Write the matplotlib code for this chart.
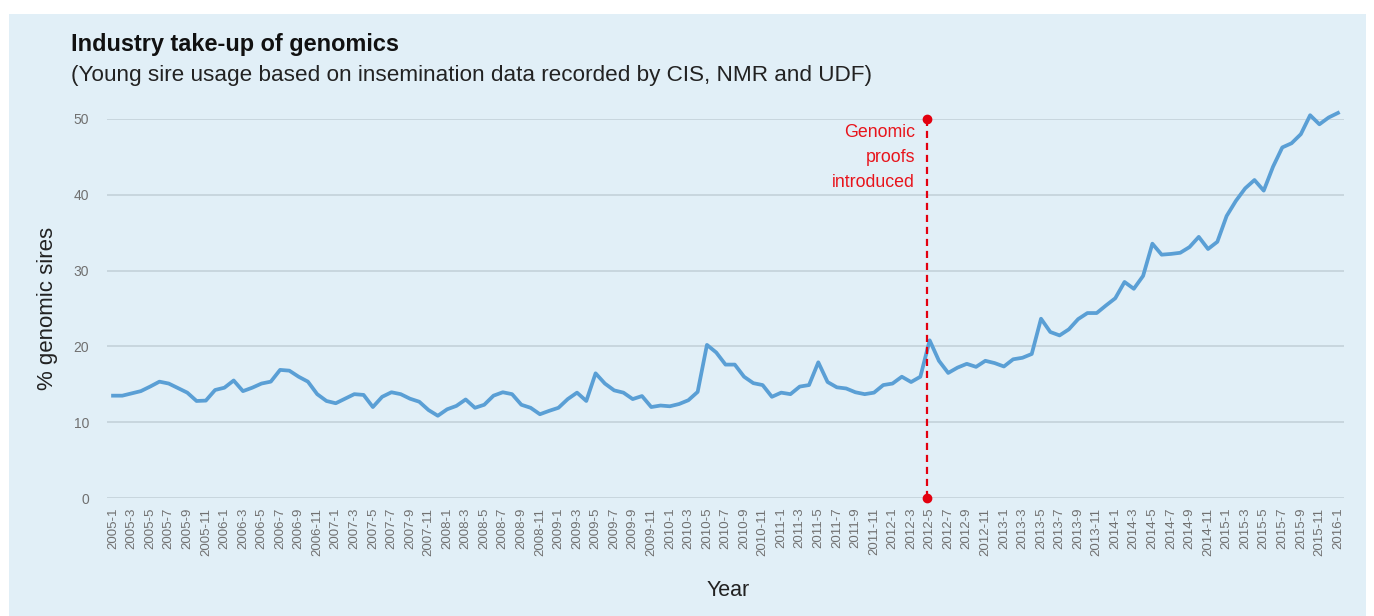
import matplotlib.pyplot as plt
import matplotlib.patches as mpatches
import numpy as np

plt.rcParams['font.family'] = ['Liberation Sans', 'DejaVu Sans']

# Monthly periods 2005-1 .. 2016-1
months = [f'{y}-{m}' for y in range(2005, 2017) for m in range(1, 13)][:133]

# % genomic sires
genomic_pct = [
    13.5, 13.5, 13.8, 14.1, 14.7, 15.35, 15.1, 14.5, 13.9, 12.8,
    12.85, 14.25, 14.55, 15.5, 14.1, 14.55, 15.1, 15.35, 16.9, 16.8,
    16.0, 15.35, 13.7, 12.8, 12.5, 13.1, 13.7, 13.6, 12.0, 13.35,
    13.95, 13.7, 13.1, 12.7, 11.6, 10.85, 11.7, 12.15, 13.0, 11.9,
    12.3, 13.5, 13.95, 13.7, 12.3, 11.9, 11.05, 11.5, 11.9, 13.05,
    13.9, 12.8, 16.45, 15.1, 14.2, 13.9, 13.05, 13.45, 12.0, 12.2,
    12.1, 12.4, 12.9, 14.0, 20.2, 19.2, 17.6, 17.6, 16.0, 15.15,
    14.9, 13.35, 13.9, 13.7, 14.7, 14.9, 17.9, 15.3, 14.6, 14.45,
    13.95, 13.7, 13.9, 14.9, 15.1, 16.0, 15.3, 16.0, 20.8, 18.1,
    16.5, 17.2, 17.7, 17.3, 18.1, 17.8, 17.35, 18.3, 18.5, 19.0,
    23.65, 21.9, 21.45, 22.25, 23.6, 24.4, 24.4, 25.4, 26.35, 28.5,
    27.6, 29.3, 33.55, 32.1, 32.2, 32.35, 33.1, 34.45, 32.85, 33.8,
    37.2, 39.2, 40.85, 41.95, 40.55, 43.7, 46.25, 46.8, 48.0, 50.5,
    49.3, 50.2, 50.8,
]

marker_pos = 87.7   # just before 2012-5
marker_text = 'Genomic\nproofs\nintroduced'
y_ticks = [0, 10, 20, 30, 40, 50]

fig = plt.figure(figsize=(13.74, 6.16), dpi=100, facecolor='white')

# light blue panel, kept behind the axes
fig.patches.append(mpatches.Rectangle((9 / 1374, 0), 1357 / 1374, 602 / 616,
                                      transform=fig.transFigure,
                                      facecolor='#e1eff7', edgecolor='none',
                                      zorder=-10))

ax = fig.add_axes([107 / 1374, 118 / 616, 1237 / 1374, 379 / 616])
ax.set_facecolor('none')

x = np.arange(len(genomic_pct))
ax.plot(x, genomic_pct, color='#5a9fd5', lw=2.7, clip_on=False, zorder=3,
        solid_joinstyle='round')

# genomic proofs marker
ax.plot([marker_pos, marker_pos], [0, 50], color='#e3000f', lw=1.6,
        ls=(0, (3.2, 2.2)), zorder=4, clip_on=False)
ax.plot([marker_pos, marker_pos], [0, 50], 'o', color='#e3000f', ms=6,
        zorder=5, clip_on=False)
ax.text(marker_pos - 1.3, 49.4, marker_text, color='#e8141c', fontsize=12.8,
        ha='right', va='top', linespacing=1.62)

ax.set_xlim(-0.65, len(genomic_pct) - 1 + 0.65)
ax.set_ylim(0, 50)
ax.set_yticks(y_ticks)
ax.set_xticks(x[::2])
ax.set_xticklabels(months[::2], rotation=90, fontsize=9.5, color='#707070')
ax.tick_params(axis='y', labelsize=10, labelcolor='#707070', length=0, pad=13)
ax.tick_params(axis='x', length=0, pad=7)
ax.grid(axis='y', color='#c6d4dc', lw=1.3)
ax.set_axisbelow(True)
for s in ax.spines.values():
    s.set_visible(False)

ax.set_ylabel('% genomic sires', fontsize=16, color='#222222', labelpad=11)
fig.text(728 / 1374, 1 - 590 / 616, 'Year', fontsize=15.5, color='#222222',
         ha='center', va='center')

fig.text(71 / 1374, 1 - 45 / 616, 'Industry take-up of genomics',
         fontsize=16.9, fontweight='bold', color='#111111', va='center')
fig.text(71 / 1374, 1 - 75 / 616,
         '(Young sire usage based on insemination data recorded by CIS, NMR and UDF)',
         fontsize=16.2, color='#222222', va='center')

fig.savefig('out.png', dpi=100, facecolor=fig.get_facecolor())
